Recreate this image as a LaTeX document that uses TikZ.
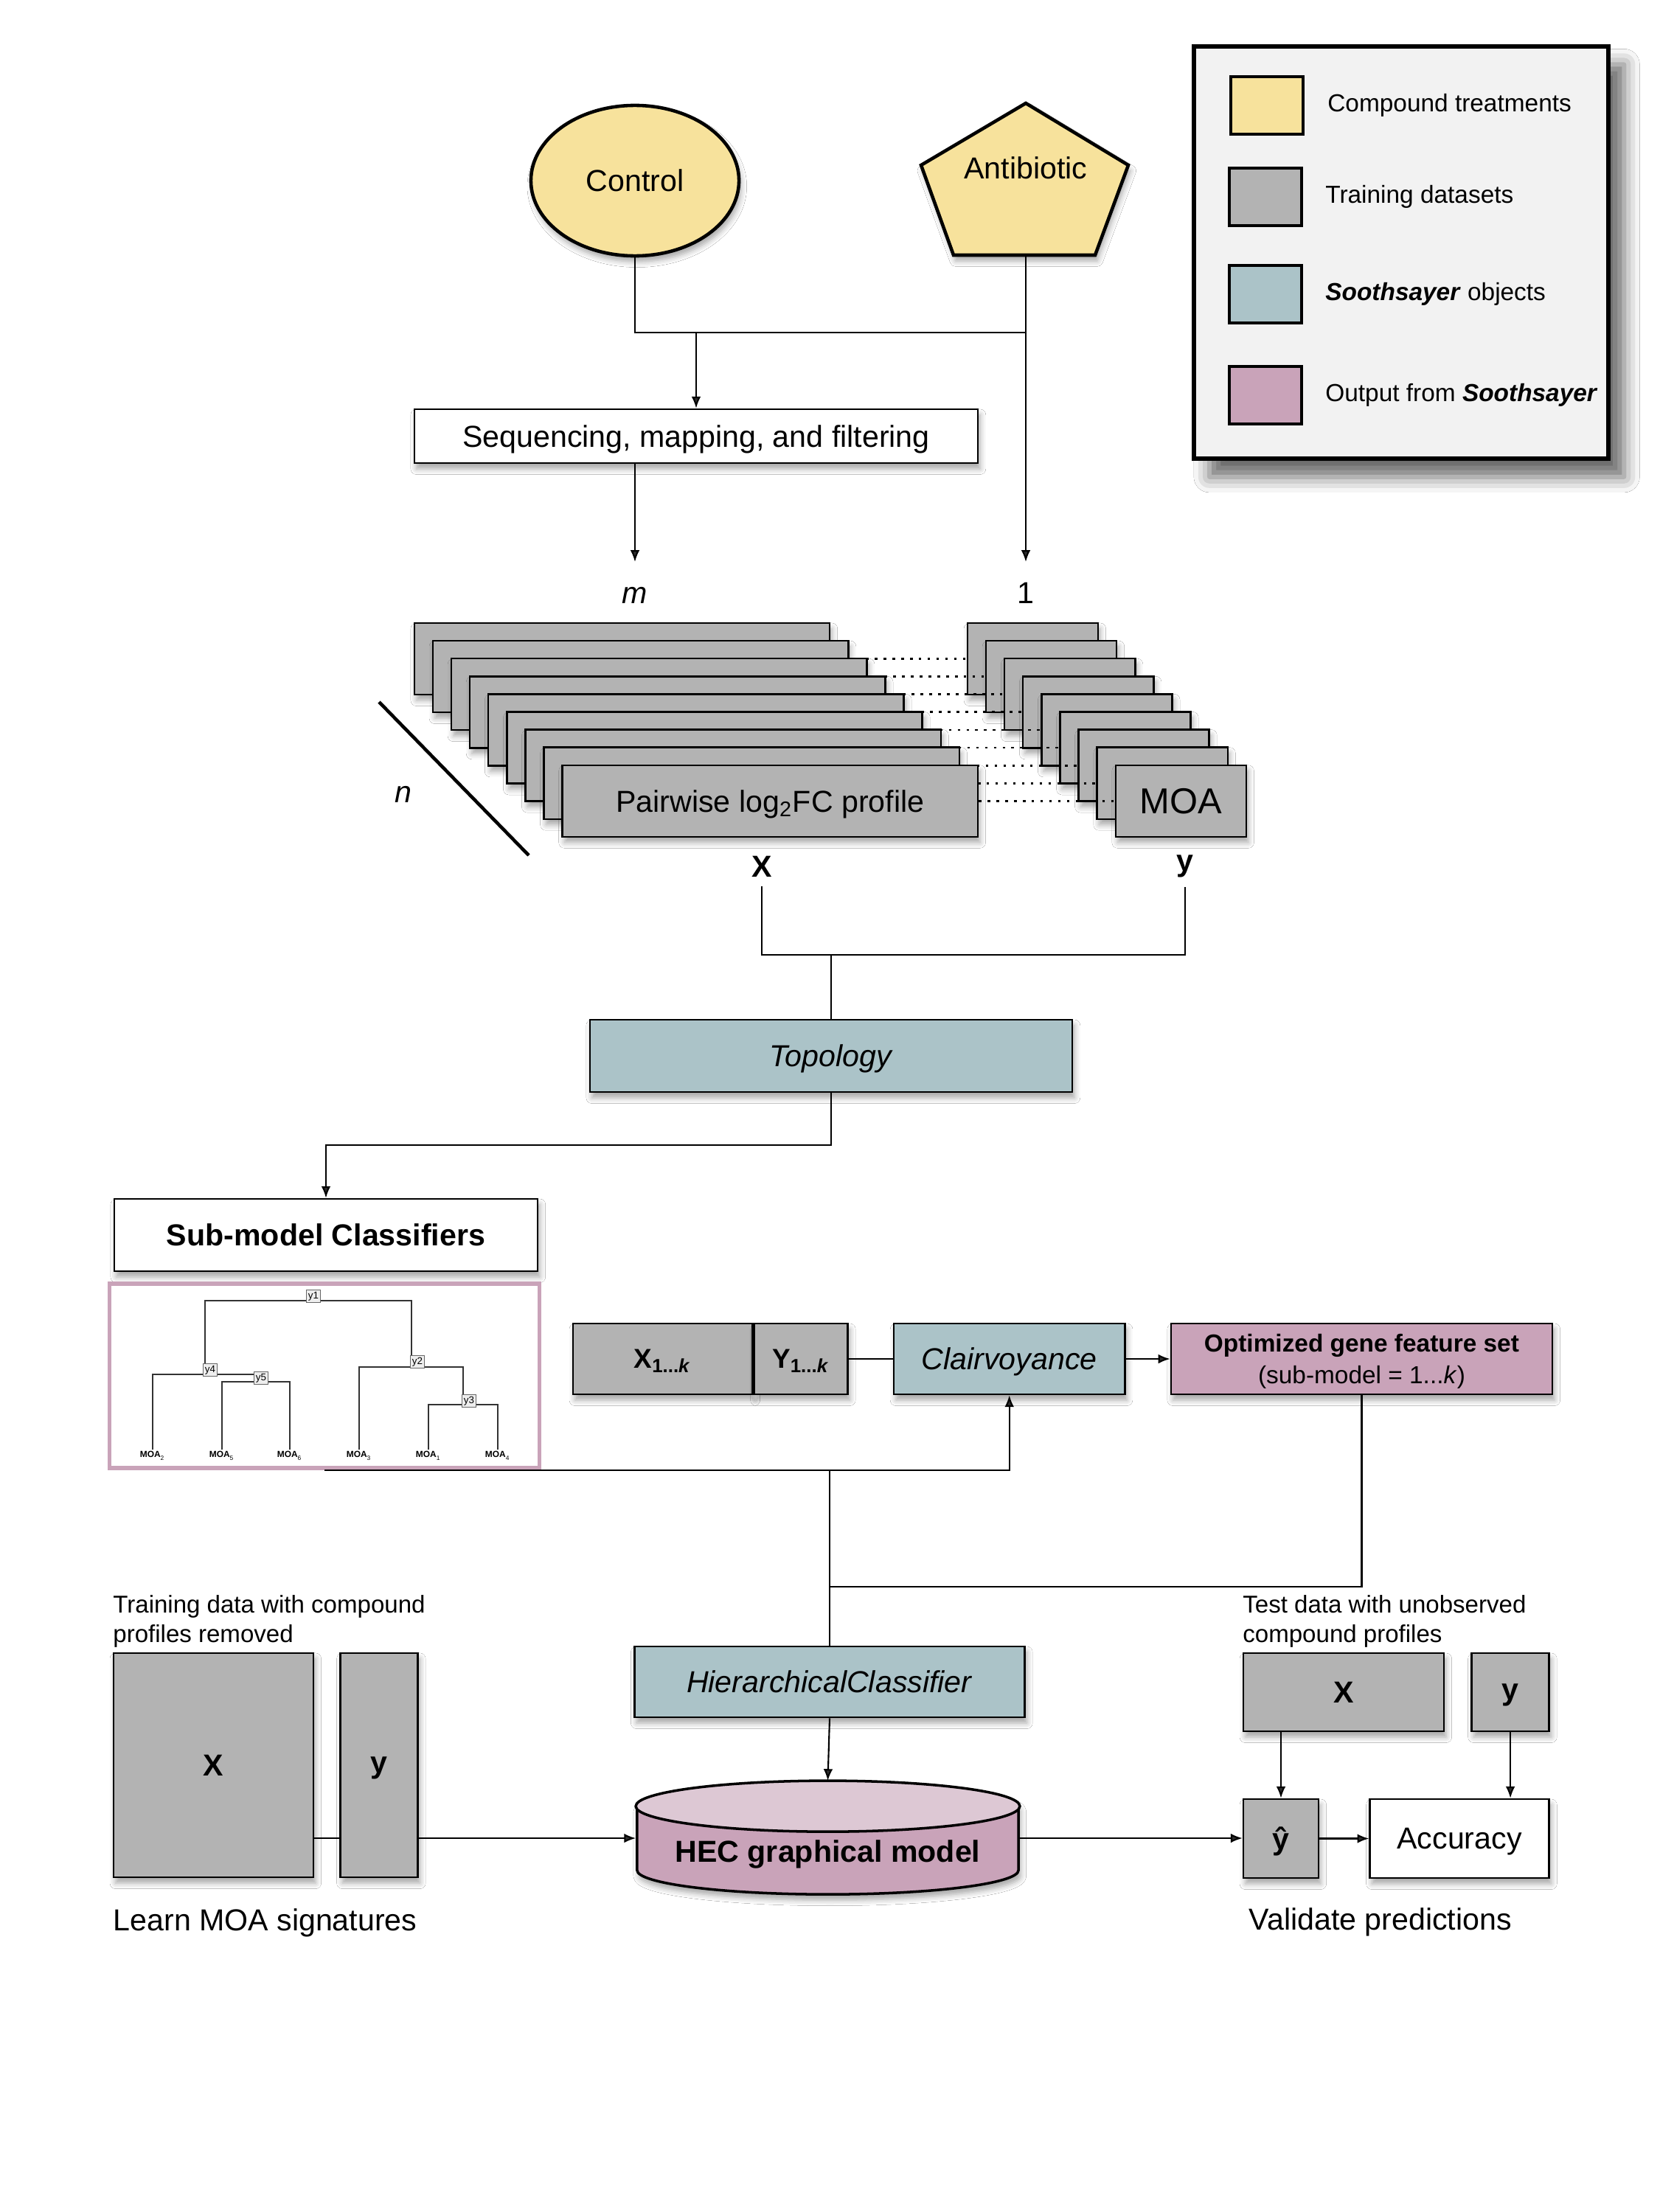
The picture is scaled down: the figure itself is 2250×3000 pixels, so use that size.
\documentclass[tikz,border=0pt]{standalone}
\usepackage{fontspec}
\setmainfont{Liberation Sans}
\usepackage{tikz}
\usetikzlibrary{shapes.geometric, arrows.meta, positioning, calc, shadows.blur}
\definecolor{treatfill}{HTML}{F7E29C}
\definecolor{datafill}{HTML}{B3B3B3}
\definecolor{objfill}{HTML}{ABC3C8}
\definecolor{outfill}{HTML}{C9A3B9}
\definecolor{outlight}{HTML}{DDC8D4}
\definecolor{legendbg}{HTML}{F2F2F2}
\definecolor{labelbg}{HTML}{EEEEEE}

\begin{document}
\begin{tikzpicture}[
  x=0.01cm, y=-0.01cm,
  font=\fontsize{11.7}{14}\selectfont,
  shd/.style={blur shadow={shadow xshift=0.8pt, shadow yshift=-2.2pt, shadow blur radius=2.2pt, shadow opacity=35}},
  box/.style={rectangle, draw, line width=0.7pt, inner sep=0pt, text depth=0pt, align=center, shd},
  databox/.style={box, fill=datafill},
  objbox/.style={box, fill=objfill},
  outbox/.style={box, fill=outfill},
  plainbox/.style={box, fill=white},
  treat/.style={draw, fill=treatfill, line width=1.3pt, shd},
  hecshape/.style={cylinder, shape border rotate=90, aspect=0.15, draw, line width=1pt, fill=outfill, shd,
                   minimum width=5.17cm, minimum height=1.5cm, anchor=shape center},
  swatch/.style={rectangle, draw, line width=0.9pt, minimum width=0.98cm, minimum height=0.78cm},
  lgtext/.style={inner sep=0pt, font=\fontsize{9.5}{11.4}\selectfont},
  numlab/.style={anchor=north, text height=8.4pt, text depth=0pt, inner xsep=2pt, inner ysep=7.5pt},
  smalltext/.style={inner sep=0pt, align=left, font=\fontsize{9.4}{11.4}\selectfont},
  line/.style={line width=0.6pt},
  arr/.style={line, -{Latex[length=4.5pt, width=3.6pt]}},
  dotlink/.style={line width=0.8pt, dash pattern=on 1pt off 2.4pt},
  ylab/.style={rectangle, draw=black!60, fill=labelbg, line width=0.3pt, inner sep=0.7pt, font=\fontsize{3.8}{4}\selectfont},
  leaf/.style={inner sep=0.5pt, anchor=north, font=\fontsize{3.4}{4}\selectfont\bfseries},
  tree/.style={line width=0.45pt, black!80}
]
  \path[use as bounding box, fill=white] (0,0) rectangle (2250,3000);

  \node[rectangle, draw, line width=1.6pt, fill=legendbg, minimum width=5.62cm, minimum height=5.59cm,
        blur shadow={shadow xshift=6pt, shadow yshift=-7pt, shadow blur radius=6pt, shadow opacity=60}] (legend) at (1900,342.5) {};
  \node[swatch, fill=treatfill] (lg1) at (1718,143) {};
  \node[swatch, fill=datafill]  (lg2) at (1716,267) {};
  \node[swatch, fill=objfill]   (lg3) at (1716,399) {};
  \node[swatch, fill=outfill]   (lg4) at (1716,536) {};
  \node[lgtext, right=0.31cm of lg1] (lgt1) {Compound treatments};
  \node[lgtext, right=0.3cm of lg2]  (lgt2) {Training datasets};
  \node[lgtext, right=0.3cm of lg3]  (lgt3) {\textbf{\textit{Soothsayer}} objects};
  \node[lgtext, right=0.3cm of lg4]  (lgt4) {Output from \textbf{\textit{Soothsayer}}};

  \node[ellipse, treat, minimum width=2.82cm, minimum height=2.04cm] (ctrl) at (861,245) {Control};
  \path[treat] (1391,140) -- (1530,224) -- (1485,346) -- (1293,346) -- (1249,224) -- cycle;
  \node (abx) at (1391,228) {Antibiotic};
  \coordinate (abxb) at (1391,346);

  \node[plainbox, minimum width=7.64cm, minimum height=0.73cm] (seq) at (944,591.5) {Sequencing, mapping, and filtering};
  \node[numlab] (m)   at (861,762)  {\textit{m}};
  \node[numlab] (one) at (1391,762) {1};

  \coordinate (mrg) at (944,451);
  \draw[line] (ctrl.south) |- (mrg) -- (mrg -| abxb);
  \draw[arr] (mrg) -- (seq.north);
  \draw[arr] (abxb) -- (one.north);
  \draw[arr] (seq.south -| m) -- (m.north);

  \foreach \i in {0,...,7}{
    \node[databox, minimum width=5.63cm, minimum height=0.97cm] (L\i) at ({843.5+25.1*\i},{893.5+24.1*\i}) {};
    \node[databox, minimum width=1.77cm, minimum height=0.97cm] (R\i) at ({1400.5+25.1*\i},{893.5+24.1*\i}) {};
    \draw[dotlink] (L\i.east) -- (R\i.west);
  }
  \node[databox, minimum width=5.63cm, minimum height=0.97cm] (L8) at (1044.3,1086.3) {Pairwise log\textsubscript{2}FC profile};
  \node[databox, minimum width=1.77cm, minimum height=0.97cm] (R8) at (1601.3,1086.3) {\fontsize{13.9}{16}\selectfont MOA};
  \draw[dotlink] (L8.east) -- (R8.west);

  \draw[line width=1.3pt] (514,952) -- (717,1160);
  \node (n) at (547,1077) {\textit{n}};
  \node (xl) at (1033,1175) {\textbf{X}};
  \node (yl) at (1607,1175) {\textbf{y}};

  \node[objbox, minimum width=6.54cm, minimum height=0.98cm] (topo) at (1127,1432) {\textit{Topology}};
  \coordinate (xyj) at (1127,1295);
  \draw[line] (xl.south) |- (xyj) -| (yl.south);
  \draw[line] (xyj) -- (topo.north);

  \node[plainbox, minimum width=5.74cm, minimum height=0.98cm] (sub) at (442,1675) {\textbf{Sub-model Classifiers}};
  \draw[arr] (topo.south) -- ++(0,71) -| (sub.north);

  \node[rectangle, draw=outfill, line width=1.5pt, fill=white, minimum width=5.82cm, minimum height=2.5cm] (dend) at (440,1866) {};
  \node[leaf] (moa2) at (207,1966) {MOA\textsubscript{\mdseries 2}};
  \node[leaf] (moa5) at (301,1966) {MOA\textsubscript{\mdseries 5}};
  \node[leaf] (moa6) at (393,1966) {MOA\textsubscript{\mdseries 6}};
  \node[leaf] (moa3) at (487,1966) {MOA\textsubscript{\mdseries 3}};
  \node[leaf] (moa1) at (581,1966) {MOA\textsubscript{\mdseries 1}};
  \node[leaf] (moa4) at (675,1966) {MOA\textsubscript{\mdseries 4}};
  \coordinate (j1) at (425,1764);
  \coordinate (j2) at (558,1854);
  \coordinate (j3) at (628,1905);
  \coordinate (j4) at (278,1864);
  \coordinate (j5) at (354,1874);
  \draw[tree] (moa2.north) |- (j4) -- (j5 |- j4);
  \draw[tree] (moa5.north) |- (j5) -| (moa6.north);
  \draw[tree] (j4) |- (j1) -| (j2);
  \draw[tree] (moa3.north) |- (j2) -| (j3);
  \draw[tree] (moa1.north) |- (j3) -| (moa4.north);
  \node[ylab] (y1) at (425,1758) {y1};
  \node[ylab] (y2) at (566,1847) {y2};
  \node[ylab] (y3) at (636,1900) {y3};
  \node[ylab] (y4) at (285,1858) {y4};
  \node[ylab] (y5) at (354,1869) {y5};

  \node[databox, minimum width=2.43cm, minimum height=0.96cm, font=\fontsize{10.5}{12}\selectfont] (xk) at (898.5,1843) {\textbf{X\textsubscript{1...\textit{k}}}};
  \node[databox, minimum width=1.27cm, minimum height=0.96cm, font=\fontsize{10.5}{12}\selectfont, right=0pt of xk] (yk) {\textbf{Y\textsubscript{1...\textit{k}}}};
  \node[objbox, minimum width=3.13cm, minimum height=0.96cm, right=0.6cm of yk] (clair) {\textit{Clairvoyance}};
  \node[outbox, minimum width=5.17cm, minimum height=0.96cm, right=0.6cm of clair,
        font=\fontsize{9.5}{12.2}\selectfont] (opt) {\textbf{Optimized gene feature set}\\(sub-model = 1...\textit{k})};
  \draw[line] (yk.east) -- (clair.west);
  \draw[arr] (clair.east) -- (opt.west);

  \node[objbox, minimum width=5.29cm, minimum height=0.96cm] (hier) at (1125,2281) {\textit{HierarchicalClassifier}};
  \node[hecshape] (hec) at (1122.5,2493) {\textbf{HEC graphical model}};
  \draw[line width=1pt, fill=outlight] let \p1=(hec.before top), \p2=(hec.after top), \p3=(hec.top),
    \n1={abs(\x2-\x1)/2}, \n2={abs(\y3-\y1)} in
    ($(\p1)!0.5!(\p2)$) ellipse [x radius=\n1, y radius=\n2];

  \draw[arr] (dend.south) -| (clair.south);
  \draw[line] (hier.north |- dend.south) -- (hier.north);
  \draw[line] (opt.south) |- (hier.north |- 0,2152);
  \draw[arr] (hier.south) -- (hec.north);

  \node[databox, minimum width=2.71cm, minimum height=3.04cm] (xtr) at (289.5,2394) {\textbf{X}};
  \node[databox, minimum width=1.05cm, minimum height=3.04cm, right=0.34cm of xtr] (ytr) {\textbf{y}};
  \node[smalltext, anchor=south west] (trtext) at ([yshift=1.5pt]xtr.north west) {Training data with compound\\profiles removed};
  \node[anchor=west, inner sep=0pt] (learn) at (153,2608) {Learn MOA signatures};

  \node[databox, minimum width=2.72cm, minimum height=1.06cm] (xte) at (1822,2295) {\textbf{X}};
  \node[databox, minimum width=1.05cm, minimum height=1.06cm, right=0.35cm of xte] (yte) {\textbf{y}};
  \node[smalltext, anchor=south west] (tetext) at ([yshift=1.5pt]xte.north west) {Test data with unobserved\\compound profiles};
  \node[databox, minimum width=1.02cm, minimum height=1.07cm] (yhat) at (1737,2493.5) {\textbf{ŷ}};
  \node[plainbox, minimum width=2.43cm, minimum height=1.07cm, right=0.67cm of yhat] (acc) {Accuracy};
  \node[anchor=west, inner sep=0pt] (valid) at (1693,2607) {Validate predictions};

  \draw[line] (xtr.east |- hec.shape center) -- (ytr.west |- hec.shape center);
  \draw[arr] (ytr.east |- hec.shape center) -- (hec.west |- hec.shape center);
  \draw[arr] (hec.east |- hec.shape center) -- (yhat.west |- hec.shape center);
  \draw[arr] (yhat.east) -- (acc.west);
  \draw[arr] (xte.south -| yhat.north) -- (yhat.north);
  \draw[arr] (yte.south) -- (yte.south |- acc.north);
\end{tikzpicture}
\end{document}
